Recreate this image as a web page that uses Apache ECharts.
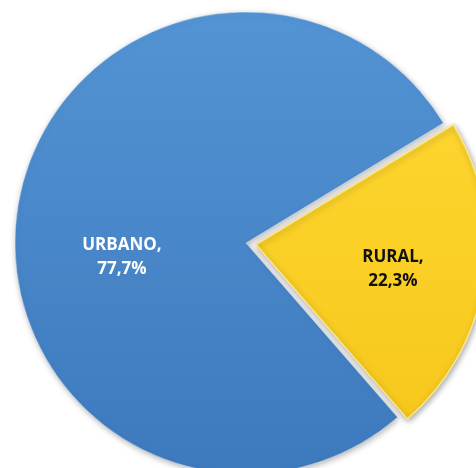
<!DOCTYPE html>
<html>
<head>
<meta charset="utf-8">
<script src="https://cdn.jsdelivr.net/npm/echarts@6/dist/echarts.min.js"></script>
<style>html,body{margin:0;padding:0;background:#fff}#c{width:476px;height:468px}</style>
</head>
<body>
<div id="c"></div>
<script>
var categories = ['URBANO', 'RURAL'];
var values = [77.7, 22.3];
var labelTexts = ['URBANO,\n77,7%', 'RURAL,\n22,3%'];

var styles = [
  {
    color: new echarts.graphic.LinearGradient(0, 0, 0, 1, [
      {offset: 0, color: '#5394d4'},
      {offset: 1, color: '#3d79bd'}
    ]),
    borderColor: 'rgba(255,255,255,0.35)', borderWidth: 1,
    shadowBlur: 6, shadowColor: 'rgba(0,0,0,0.3)', shadowOffsetX: 1, shadowOffsetY: 2
  },
  {
    color: new echarts.graphic.LinearGradient(0, 0, 0, 1, [
      {offset: 0, color: '#fdd52e'},
      {offset: 1, color: '#f7c81c'}
    ]),
    borderColor: '#fbe78c', borderWidth: 1.5,
    shadowBlur: 6, shadowColor: 'rgba(0,0,0,0.35)', shadowOffsetX: 1, shadowOffsetY: 2
  }
];
var labelColors = ['#ffffff', '#111111'];
var labelShift = [[-7, 32], [20, 6]];

var chart = echarts.init(document.getElementById('c'), null, {renderer: 'canvas'});
chart.setOption({
  animation: false,
  series: [{
    type: 'pie',
    center: [246, 243],
    radius: [0, 231],
    startAngle: -49,
    clockwise: true,
    selectedMode: 'single',
    selectedOffset: 10,
    label: {
      show: true,
      position: 'inside',
      fontFamily: 'Open Sans',
      fontWeight: 'bold',
      fontSize: 17,
      lineHeight: 24,
      align: 'center'
    },
    labelLine: {show: false},
    labelLayout: function (p) {
      return {dx: labelShift[p.dataIndex][0], dy: labelShift[p.dataIndex][1]};
    },
    emphasis: {disabled: true},
    data: categories.map(function (c, i) {
      return {
        name: c,
        value: values[i],
        selected: i === 1,
        itemStyle: styles[i],
        label: {formatter: labelTexts[i], color: labelColors[i]}
      };
    })
  }]
});
</script>
</body>
</html>
